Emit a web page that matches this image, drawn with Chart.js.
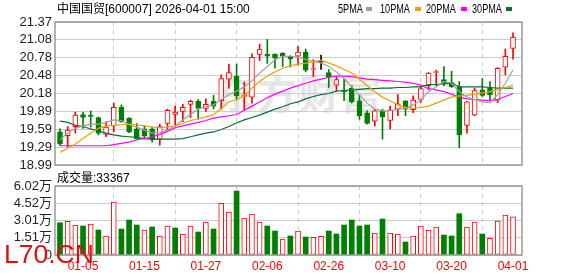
<!DOCTYPE html>
<html lang="zh-CN">
<head>
    <meta charset="UTF-8">
    <title>中国国贸 日K线</title>
    <script src="https://cdn.jsdelivr.net/npm/chart.js"></script>
    <style>
        body { margin: 0; background: #fff; }
        #wrap {
            position: relative;
            width: 578px;
            height: 276px;
            overflow: hidden;
            font-family: "Liberation Sans", Arial, "Noto Sans CJK SC", sans-serif;
        }
        canvas { position: absolute; left: 0; top: 0; }
        .txt { position: absolute; font-size: 12px; line-height: 14px; color: #000; white-space: nowrap; }
        .leg { position: absolute; top: 2px; font-size: 12px; line-height: 14px; transform: scaleX(0.76); transform-origin: left top; }
        .sq { position: absolute; top: 7px; width: 6px; height: 4px; }
        #wm {
            position: absolute; left: 215px; top: 70px;
            font-family: "Noto Sans CJK SC", sans-serif; font-weight: bold;
            font-size: 40px; line-height: 44px; color: #e6e6e6; letter-spacing: 2px;
        }
        #site {
            position: absolute; left: 4px; top: 241px;
            font-size: 26.5px; line-height: 27px; color: #dd1111; z-index: 5;
        }
    </style>
</head>
<body>
<div id="wrap">
    <div id="wm">东方财富</div>
    <canvas id="kChart" width="578" height="276"></canvas>
    <canvas id="volChart" width="578" height="276"></canvas>

    <div class="txt" style="left:57px; top:2px;">中国国贸[600007] 2026-04-01 15:00</div>
    <div class="leg" style="left:338px;">5PMA</div><div class="sq" style="left:366px; background:#a0a0a0;"></div>
    <div class="leg" style="left:380px;">10PMA</div><div class="sq" style="left:415px; background:#f0a000;"></div>
    <div class="leg" style="left:426px;">20PMA</div><div class="sq" style="left:461px; background:#ff00ff;"></div>
    <div class="leg" style="left:472px;">30PMA</div><div class="sq" style="left:506px; background:#0a6e34;"></div>
    <div class="txt" style="left:57px; top:171px;">成交量:33367</div>
    <div id="site">L70.CN</div>
</div>

<script>
    // 日期 (60 个交易日)
    const dates = [
        '12-29','12-30','12-31','01-05','01-06','01-07','01-08','01-09','01-12','01-13',
        '01-14','01-15','01-16','01-19','01-20','01-21','01-22','01-23','01-26','01-27',
        '01-28','01-29','01-30','02-02','02-03','02-04','02-05','02-06','02-09','02-10',
        '02-11','02-12','02-13','02-24','02-25','02-26','02-27','03-02','03-03','03-04',
        '03-05','03-06','03-09','03-10','03-11','03-12','03-13','03-16','03-17','03-18',
        '03-19','03-20','03-23','03-24','03-25','03-26','03-27','03-30','03-31','04-01'
    ];
    const opens = [
        19.54,19.48,19.63,19.83,19.82,19.78,19.50,19.64,19.95,19.77,
        19.59,19.59,19.59,19.42,19.68,19.83,19.88,20.00,20.05,19.93,
        20.05,20.06,20.42,20.47,20.13,20.12,20.83,20.83,20.83,20.85,
        20.80,20.80,20.87,20.58,20.70,20.53,20.32,20.22,20.27,20.06,
        19.86,19.72,19.89,19.73,19.92,20.06,19.91,20.08,20.31,20.53,
        20.41,20.36,20.29,19.65,19.82,20.24,20.27,20.07,20.62,20.93
    ];
    const highs = [
        19.59,19.63,19.87,19.87,19.89,19.79,19.71,20.02,19.99,19.78,
        19.68,19.64,19.62,19.67,19.92,19.97,20.00,20.07,20.08,20.09,
        20.15,20.49,20.67,20.67,20.37,20.84,21.00,21.08,20.84,20.86,
        20.81,20.97,20.92,20.74,20.82,20.58,20.46,20.42,20.31,20.16,
        19.89,19.92,19.92,19.97,20.16,20.06,20.14,20.29,20.53,20.57,
        20.63,20.55,20.38,20.05,20.27,20.43,20.38,20.61,20.92,21.19
    ];
    const lows = [
        19.31,19.29,19.52,19.60,19.62,19.49,19.46,19.54,19.70,19.53,
        19.42,19.43,19.37,19.32,19.57,19.66,19.71,19.78,19.75,19.88,
        19.92,19.92,20.27,20.07,19.90,20.02,20.73,20.68,20.60,20.63,
        20.62,20.65,20.54,20.46,20.58,20.28,20.22,20.06,20.02,19.75,
        19.67,19.64,19.42,19.59,19.81,19.81,19.86,20.03,20.24,20.31,
        20.31,20.28,19.28,19.52,19.81,20.13,20.07,20.03,20.49,20.75
    ];
    const closes = [
        19.34,19.57,19.82,19.78,19.80,19.52,19.62,19.95,19.71,19.54,
        19.43,19.47,19.41,19.63,19.90,19.87,19.95,20.05,19.93,20.00,
        19.97,20.43,20.53,20.14,20.15,20.78,20.92,20.80,20.77,20.80,
        20.76,20.87,20.57,20.59,20.70,20.45,20.41,20.21,20.04,19.81,
        19.68,19.89,19.79,19.91,20.01,19.92,20.07,20.26,20.52,20.54,
        20.35,20.29,19.49,20.04,20.23,20.15,20.16,20.60,20.80,21.12
    ];
    const volumes = [
        28180,29400,26170,25300,27050,21810,16580,46240,22680,30540,
        26170,21810,24430,16580,25300,23560,18320,25300,20070,28790,
        22680,45100,37520,55840,32280,35770,28790,25300,20940,13960,
        16580,20940,15700,15410,16290,20940,18320,26170,30540,25300,
        26170,19190,31410,19190,18320,11340,16580,25300,21810,24430,
        17450,16580,36060,24430,28790,18320,14540,29660,34900,33367
    ];
    const ma5 = [
        19.41,19.52,19.60,19.64,19.67,19.67,19.70,19.74,19.73,19.66,
        19.62,19.57,19.52,19.53,19.57,19.64,19.74,19.83,19.92,19.96,
        19.99,20.08,20.16,20.22,20.29,20.39,20.52,20.63,20.74,20.80,
        20.80,20.78,20.75,20.71,20.69,20.63,20.54,20.43,20.29,20.16,
        20.02,19.92,19.89,19.89,19.92,19.93,19.99,20.07,20.21,20.29,
        20.38,20.35,20.21,20.12,20.08,20.04,20.03,20.16,20.35,20.57
    ];
    const ma10 = [
        19.20,19.27,19.34,19.43,19.52,19.60,19.64,19.65,19.66,19.67,
        19.66,19.64,19.62,19.61,19.62,19.64,19.68,19.73,19.76,19.79,
        19.83,19.93,20.04,20.08,20.14,20.27,20.38,20.47,20.54,20.60,
        20.64,20.67,20.68,20.71,20.73,20.69,20.64,20.58,20.52,20.42,
        20.31,20.21,20.12,20.06,19.99,19.95,19.93,19.95,19.97,20.02,
        20.07,20.12,20.14,20.15,20.17,20.19,20.21,20.24,20.28,20.32
    ];
    const ma20 = [
        19.31,19.31,19.31,19.31,19.31,19.31,19.31,19.33,19.35,19.37,
        19.41,19.43,19.46,19.50,19.55,19.61,19.64,19.67,19.70,19.73,
        19.77,19.79,19.81,19.83,19.90,19.97,20.04,20.11,20.17,20.22,
        20.27,20.31,20.35,20.39,20.42,20.45,20.47,20.47,20.46,20.44,
        20.42,20.41,20.40,20.39,20.38,20.37,20.35,20.32,20.26,20.24,
        20.21,20.17,20.12,20.09,20.08,20.07,20.06,20.08,20.13,20.18
    ];
    const ma30 = [
        19.72,19.70,19.65,19.63,19.59,19.56,19.52,19.49,19.47,19.46,
        19.45,19.43,19.42,19.42,19.42,19.42,19.43,19.46,19.49,19.52,
        19.54,19.58,19.63,19.69,19.74,19.78,19.82,19.87,19.92,19.96,
        20.01,20.04,20.09,20.13,20.16,20.18,20.22,20.23,20.24,20.25,
        20.26,20.26,20.27,20.27,20.28,20.28,20.29,20.29,20.33,20.33,
        20.34,20.35,20.29,20.29,20.29,20.29,20.28,20.27,20.27,20.27
    ];
    const priceTicks = ['18.99','19.29','19.59','19.89','20.18','20.48','20.78','21.08','21.37'];
    const volTicks = ['0','1.51万','3.01万','4.52万','6.02万'];
    const dateTicks = ['01-05','01-15','01-27','02-06','02-26','03-10','03-20','04-01'];

    const RED = '#ff0000', GREEN = '#008000', BLACK = '#000000';
    const priceMin = 18.99, priceMax = 21.37, volMax = 60200;
    const xMin = 0.35, xMax = 61.17;
    const axisFont = { family: 'Liberation Sans', size: 13 };

    const candleColors = closes.map((c, i) => c > opens[i] ? RED : (c < opens[i] ? GREEN : BLACK));
    // 成交量颜色按当日收盘与前日收盘比较
    const volColors = closes.map((c, i) => i === 0 ? candleColors[0] : (c >= closes[i - 1] ? RED : GREEN));

    const pts = arr => arr.map((v, i) => ({ x: i + 1, y: v }));

    function setDateTicks(scale) {
        scale.ticks = dateTicks.map(d => ({ value: dates.indexOf(d) + 1 }));
    }
    function evenTicks(labels, min, max) {
        return scale => {
            scale.ticks = labels.map((t, i) => ({ value: min + i * (max - min) / (labels.length - 1) }));
        };
    }

    // 绘图区外框
    const framePlugin = {
        id: 'frame',
        afterDraw(chart) {
            const a = chart.chartArea, ctx = chart.ctx;
            ctx.save();
            ctx.strokeStyle = '#999';
            ctx.lineWidth = 1.5;
            ctx.strokeRect(a.left, a.top, a.right - a.left, a.bottom - a.top);
            ctx.restore();
        }
    };

    function maLine(data, color) {
        return {
            type: 'line',
            data: pts(data),
            borderColor: color,
            borderWidth: 1.2,
            pointRadius: 0,
            tension: 0,
            order: 0
        };
    }

    new Chart(document.getElementById('kChart'), {
        type: 'bar',
        data: {
            datasets: [
                maLine(ma5, '#a0a0a0'),
                maLine(ma10, '#f0a000'),
                maLine(ma20, '#ff00ff'),
                maLine(ma30, '#0a6e34'),
                {
                    // 实体
                    data: opens.map((o, i) => ({ x: i + 1, y: [o, closes[i]] })),
                    backgroundColor: candleColors.map(c => c === RED ? '#ffffff' : c),
                    borderColor: candleColors,
                    borderWidth: 1,
                    borderSkipped: false,
                    barThickness: 5,
                    minBarLength: 1,
                    grouped: false,
                    order: 1
                },
                {
                    // 影线
                    data: lows.map((l, i) => ({ x: i + 1, y: [l, highs[i]] })),
                    backgroundColor: candleColors,
                    borderWidth: 0,
                    barThickness: 1,
                    grouped: false,
                    order: 2
                }
            ]
        },
        options: {
            responsive: false,
            animation: false,
            devicePixelRatio: 1,
            layout: { padding: { top: 22, bottom: 111, right: 56, left: 0 } },
            plugins: { legend: { display: false }, tooltip: { enabled: false } },
            scales: {
                x: {
                    type: 'linear', min: xMin, max: xMax, offset: false,
                    afterBuildTicks: setDateTicks,
                    ticks: { display: false },
                    grid: { color: '#cccccc', drawTicks: false },
                    border: { display: false, dash: [4, 4] },
                    afterFit: s => { s.height = 0; }
                },
                y: {
                    min: priceMin, max: priceMax,
                    afterBuildTicks: evenTicks(priceTicks, priceMin, priceMax),
                    ticks: {
                        callback: (v, i) => priceTicks[i],
                        font: axisFont, color: '#222', padding: 3, autoSkip: false
                    },
                    grid: { color: '#cccccc', drawTicks: false },
                    border: { display: false },
                    afterFit: s => { s.width = 55; }
                }
            }
        },
        plugins: [framePlugin]
    });

    new Chart(document.getElementById('volChart'), {
        type: 'bar',
        data: {
            datasets: [{
                data: pts(volumes),
                backgroundColor: volColors.map(c => c === RED ? '#ffffff' : c),
                borderColor: volColors,
                borderWidth: volColors.map(c => c === RED ? 1 : 0),
                borderSkipped: false,
                barThickness: 5
            }]
        },
        options: {
            responsive: false,
            animation: false,
            devicePixelRatio: 1,
            layout: { padding: { top: 186, bottom: 0, right: 56, left: 0 } },
            plugins: { legend: { display: false }, tooltip: { enabled: false } },
            scales: {
                x: {
                    type: 'linear', min: xMin, max: xMax, offset: false,
                    afterBuildTicks: setDateTicks,
                    ticks: {
                        callback: v => dates[v - 1],
                        color: RED, font: { family: 'Liberation Sans', size: 12 },
                        padding: 4, autoSkip: false, maxRotation: 0
                    },
                    grid: { color: '#cccccc', drawTicks: false },
                    border: { display: false, dash: [4, 4] },
                    afterFit: s => { s.height = 21; }
                },
                y: {
                    min: 0, max: volMax,
                    afterBuildTicks: evenTicks(volTicks, 0, volMax),
                    ticks: {
                        callback: (v, i) => volTicks[i],
                        font: axisFont, color: '#222', padding: 3, autoSkip: false
                    },
                    grid: { color: '#cccccc', drawTicks: false },
                    border: { display: false },
                    afterFit: s => { s.width = 55; }
                }
            }
        },
        plugins: [framePlugin]
    });
</script>
</body>
</html>
